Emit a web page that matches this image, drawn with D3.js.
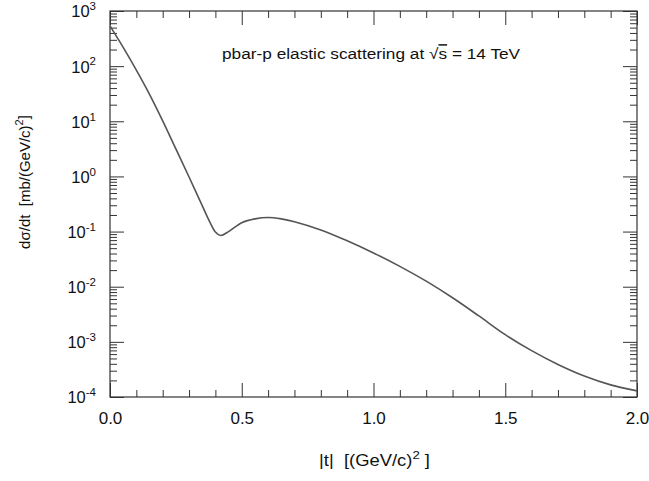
<!DOCTYPE html>
<html>
<head>
<meta charset="utf-8">
<script src="https://cdn.jsdelivr.net/npm/d3@7"></script>
<style>
  body { margin: 0; background: #fff; }
  svg text { font-family: "Liberation Sans", Arial, Helvetica, sans-serif; fill: #111; white-space: pre; }
</style>
</head>
<body>
<svg id="chart" width="649" height="481"></svg>
<script>
// |t| in (GeV/c)^2 and d(sigma)/dt in mb/(GeV/c)^2
const tValues = [0, 0.05, 0.1, 0.15, 0.2, 0.25, 0.3, 0.35, 0.38, 0.4, 0.42, 0.45, 0.5, 0.55, 0.6,
  0.65, 0.7, 0.8, 0.9, 1.0, 1.1, 1.2, 1.3, 1.4, 1.5, 1.6, 1.7, 1.8, 1.9, 2.0]
const dsdt = [537, 219, 85, 30.9, 10.2, 3.16, 0.977, 0.295, 0.145, 0.098, 0.085, 0.1, 0.145, 0.17, 0.18,
  0.17, 0.151, 0.107, 0.068, 0.041, 0.0234, 0.0126, 0.0063, 0.00295, 0.00135, 0.000692, 0.000389,
  0.00024, 0.000166, 0.000129]
const xMajor = [0, 0.5, 1.0, 1.5, 2.0]
const xMinor = [0.1, 0.2, 0.3, 0.4, 0.6, 0.7, 0.8, 0.9, 1.1, 1.2, 1.3, 1.4, 1.6, 1.7, 1.8, 1.9]
const yExponents = [-4, -3, -2, -1, 0, 1, 2, 3]

const margin = { top: 11, right: 12, bottom: 84, left: 110 }
const W = 649, H = 481
const svg = d3.select('#chart')

const x = d3.scaleLinear().domain([0, 2]).range([margin.left, W - margin.right])
const y = d3.scaleLog().domain([1e-4, 1e3]).range([H - margin.bottom, margin.top])

const yMajor = yExponents.map(e => Math.pow(10, e))
const yMinor = []
yExponents.slice(0, -1).forEach(e => {
  for (let m = 2; m <= 9; m++) yMinor.push(m * Math.pow(10, e))
})

const plotBottom = H - margin.bottom
const plotTop = margin.top
const plotLeft = margin.left
const plotRight = W - margin.right

const styleAxis = g => g
  .call(g2 => g2.select('.domain').remove())
  .call(g2 => g2.selectAll('.tick line').attr('stroke', '#333').attr('stroke-width', 1))

// x axis, bottom with labels
svg.append('g')
  .attr('transform', `translate(0,${plotBottom})`)
  .call(d3.axisBottom(x).tickValues(xMajor).tickSize(-14).tickPadding(15).tickFormat(d3.format('.1f')))
  .call(styleAxis)
  .call(g => g.selectAll('text').attr('font-size', 17).attr('font-family', null))
svg.append('g')
  .attr('transform', `translate(0,${plotBottom})`)
  .call(d3.axisBottom(x).tickValues(xMinor).tickSize(-7).tickFormat(''))
  .call(styleAxis)
// x axis, top
svg.append('g')
  .attr('transform', `translate(0,${plotTop})`)
  .call(d3.axisTop(x).tickValues(xMajor).tickSize(-14).tickFormat(''))
  .call(styleAxis)
svg.append('g')
  .attr('transform', `translate(0,${plotTop})`)
  .call(d3.axisTop(x).tickValues(xMinor).tickSize(-7).tickFormat(''))
  .call(styleAxis)

// y axis, left with labels
const gy = svg.append('g')
  .attr('transform', `translate(${plotLeft},0)`)
  .call(d3.axisLeft(y).tickValues(yMajor).tickSize(-14).tickPadding(14).tickFormat(''))
  .call(styleAxis)
gy.selectAll('.tick text')
  .attr('font-size', 16.5)
  .attr('font-family', null)
  .attr('dy', '0.36em')
  .each(function (d) {
    const t = d3.select(this)
    t.append('tspan').text('10')
    t.append('tspan').attr('font-size', 11.5).attr('dy', '-0.62em').text(Math.round(Math.log10(d)))
  })
svg.append('g')
  .attr('transform', `translate(${plotLeft},0)`)
  .call(d3.axisLeft(y).tickValues(yMinor).tickSize(-7).tickFormat(''))
  .call(styleAxis)
// y axis, right
svg.append('g')
  .attr('transform', `translate(${plotRight},0)`)
  .call(d3.axisRight(y).tickValues(yMajor).tickSize(-14).tickFormat(''))
  .call(styleAxis)
svg.append('g')
  .attr('transform', `translate(${plotRight},0)`)
  .call(d3.axisRight(y).tickValues(yMinor).tickSize(-7).tickFormat(''))
  .call(styleAxis)

// frame
svg.append('rect')
  .attr('x', plotLeft).attr('y', plotTop)
  .attr('width', plotRight - plotLeft).attr('height', plotBottom - plotTop)
  .attr('fill', 'none').attr('stroke', '#333').attr('stroke-width', 1.2)

// curve
const line = d3.line()
  .x(d => x(d[0]))
  .y(d => y(d[1]))
  .curve(d3.curveCatmullRom.alpha(0.5))
svg.append('path')
  .datum(tValues.map((t, i) => [t, dsdt[i]]))
  .attr('fill', 'none')
  .attr('stroke', '#555')
  .attr('stroke-width', 1.6)
  .attr('d', line)

// title inside the frame (the original lettering is a little wide)
const title = svg.append('text')
  .attr('transform', 'translate(222,59) scale(1.15,1)')
  .attr('font-size', 15)
title.append('tspan').text('pbar-p elastic scattering at \u221A')
title.append('tspan').style('text-decoration', 'overline').text('s')
title.append('tspan').text(' = 14 TeV')

// x axis title
const xt = svg.append('text')
  .attr('transform', `translate(${(plotLeft + plotRight) / 2 + 1},466) scale(1.15,1)`)
  .attr('text-anchor', 'middle')
  .attr('font-size', 16)
xt.append('tspan').text('|t|  [(GeV/c)')
xt.append('tspan').attr('font-size', 11.5).attr('dy', '-0.6em').text('2')
xt.append('tspan').attr('dy', '0.4em').text(' ]')

// y axis title
const yt = svg.append('text')
  .attr('transform', 'translate(30,182) rotate(-90)')
  .attr('text-anchor', 'middle')
  .attr('font-size', 15)
yt.append('tspan').text('d\u03C3/dt  [mb/(GeV/c)')
yt.append('tspan').attr('font-size', 11).attr('dy', '-0.6em').text('2')
yt.append('tspan').attr('dy', '0.4em').text(']')
</script>
</body>
</html>
